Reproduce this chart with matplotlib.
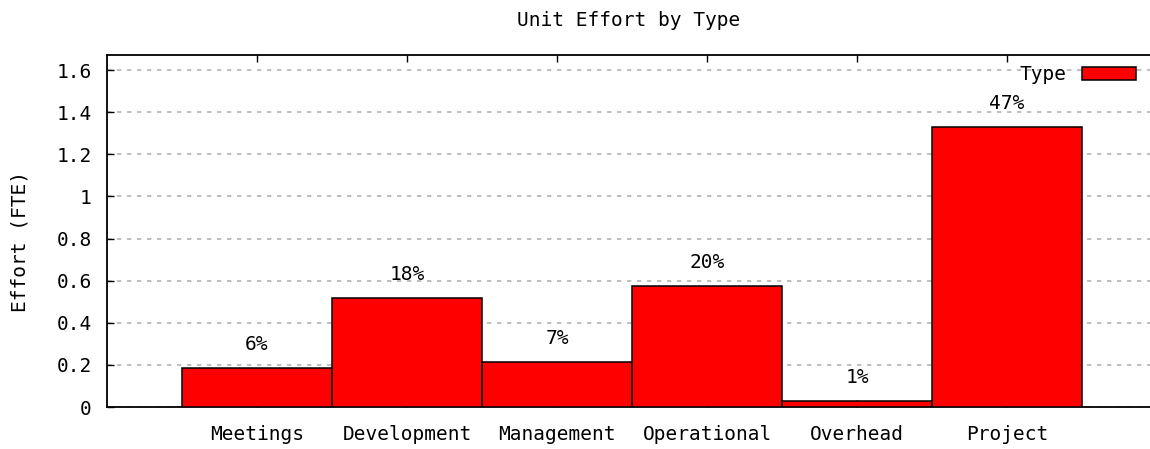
import matplotlib
matplotlib.use("Agg")
import matplotlib.pyplot as plt
from matplotlib.patches import Patch

categories = ["Meetings", "Development", "Management", "Operational", "Overhead", "Project"]
effort = [0.184, 0.516, 0.212, 0.575, 0.030, 1.330]
pct_labels = ["6%", "18%", "7%", "20%", "1%", "47%"]
yticks = [0, 0.2, 0.4, 0.6, 0.8, 1, 1.2, 1.4, 1.6]
ytick_labels = ["0", "0.2", "0.4", "0.6", "0.8", "1", "1.2", "1.4", "1.6"]

plt.rcParams['font.family'] = ['DejaVu Sans Mono']
FS = 14

fig = plt.figure(figsize=(11.5, 4.49), dpi=100)
ax = fig.add_axes([0.093, 0.0935, 0.907, 0.7829])

x = list(range(len(categories)))
ax.bar(x, effort, width=1.0, color="#ff0000", edgecolor="black", linewidth=1.1, zorder=3)

for xi, v, lab in zip(x, effort, pct_labels):
    ax.annotate(lab, (xi, v), xytext=(0, 17), textcoords="offset points",
                ha="center", va="center", fontsize=FS)

ax.set_xlim(-1, 5.953)
ax.set_ylim(0, 1.669)
ax.set_xticks(x)
ax.set_xticklabels(categories, fontsize=FS)
ax.set_yticks(yticks)
ax.set_yticklabels(ytick_labels, fontsize=FS)
ax.tick_params(direction="in", top=True, right=False, length=5, width=1.0)
ax.tick_params(axis="x", pad=13)
ax.tick_params(axis="y", pad=11)
ax.yaxis.grid(True, color="#b4b4b4", linestyle=(0, (2.6, 3.4)), linewidth=1.2, zorder=0)
ax.set_axisbelow(True)
for s in ax.spines.values():
    s.set_linewidth(1.3)
ax.spines["right"].set_visible(False)

ax.set_ylabel("Effort (FTE)", fontsize=FS)
ax.yaxis.set_label_coords(-0.074, 0.47)
ax.set_title("Unit Effort by Type", fontsize=FS, pad=21)

handle = Patch(facecolor="#ff0000", edgecolor="black", linewidth=1.1)
ax.legend([handle], ["Type"], loc="upper right", frameon=False, markerfirst=False,
          fontsize=FS, handlelength=2.8, handleheight=0.65, borderaxespad=0.1,
          handletextpad=0.8, bbox_to_anchor=(0.996, 1.0))

fig.savefig("out.png", dpi=100)
